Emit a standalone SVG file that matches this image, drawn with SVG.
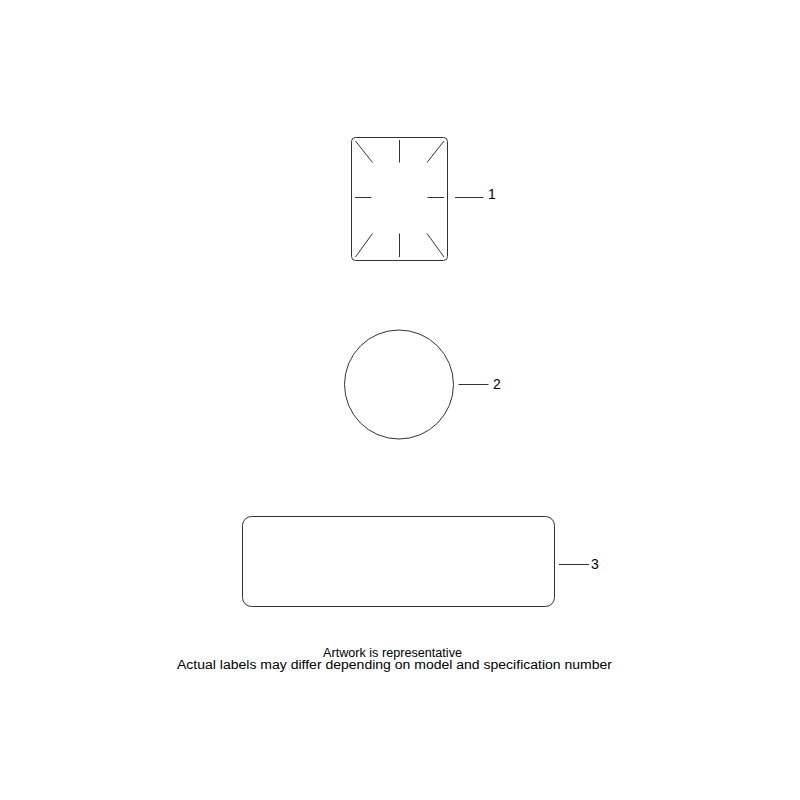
<svg xmlns="http://www.w3.org/2000/svg" width="800" height="800" viewBox="0 0 800 800">
<style>
.s{fill:none;stroke:#333;stroke-width:1}
.t{font-family:"Liberation Sans",Arial,sans-serif;font-size:14px;fill:#000}
.c{font-family:"Liberation Sans",Arial,sans-serif;font-size:12.5px;fill:#000}
</style>
<rect width="800" height="800" fill="#fff"/>
<g id="node1">
<rect class="s" x="351.5" y="137.5" width="96" height="123" rx="4"/>
<path class="s" d="M355.5 141L372.5 162.5M399.5 140V162.5M444 141L427 162.5M355 197.5H371.5M427.5 197.5H444M355.5 257L372.5 233.5M399.5 233.5V257M427 233.5L444 257"/>
<text class="t" x="488" y="199">1</text>
</g>
<g id="node2">
<circle class="s" cx="399" cy="384.5" r="54.5"/>
<text class="t" x="493" y="389">2</text>
</g>
<g id="node3">
<rect class="s" x="242.5" y="516.5" width="312" height="90" rx="9"/>
<text class="t" x="591" y="569">3</text>
</g>
<g id="connectors">
<path class="s" d="M455 197.5H483.5M458.5 384.5H488.5M559 564.5H589"/>
</g>
<g id="caption">
<text class="c" x="323" y="657" textLength="139" lengthAdjust="spacingAndGlyphs">Artwork is representative</text>
<text class="c" x="177" y="668.5" textLength="435" lengthAdjust="spacingAndGlyphs">Actual labels may differ depending on model and specification number</text>
</g>
</svg>
